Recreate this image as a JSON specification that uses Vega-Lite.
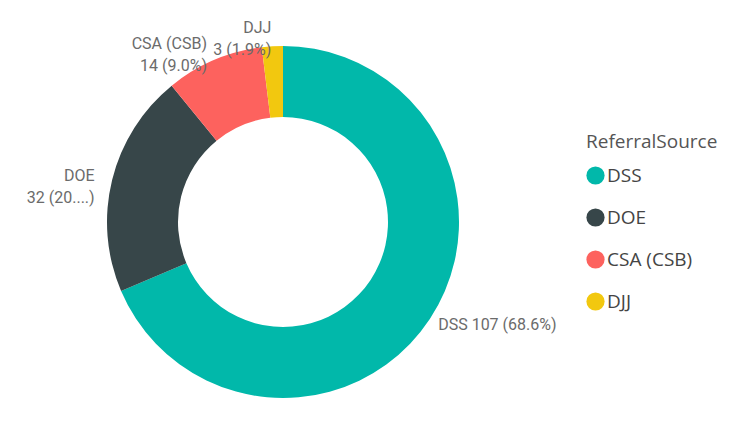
{
  "$schema": "https://vega.github.io/schema/vega-lite/v6.json",
  "width": 566,
  "height": 444,
  "autosize": {"type": "pad"},
  "padding": 0,
  "background": "white",
  "config": {"view": {"stroke": null}, "font": "Roboto"},
  "data": {"values": [
    {"source": "DSS", "value": 107, "label": "DSS 107 (68.6%)"},
    {"source": "DOE", "value": 32, "label": "DOE\n32 (20....)"},
    {"source": "CSA (CSB)", "value": 14, "label": "CSA (CSB)\n14 (9.0%)"},
    {"source": "DJJ", "value": 3, "label": "DJJ\n3 (1.9%)"}
  ]},
  "encoding": {
    "theta": {"field": "value", "type": "quantitative", "stack": true},
    "order": {"field": "value", "type": "quantitative", "sort": "descending"}
  },
  "layer": [
    {
      "mark": {"type": "arc", "outerRadius": 176, "innerRadius": 105},
      "encoding": {
        "color": {
          "field": "source", "type": "nominal", "title": "ReferralSource",
          "sort": ["DSS", "DOE", "CSA (CSB)", "DJJ"],
          "scale": {"domain": ["DSS", "DOE", "CSA (CSB)", "DJJ"], "range": ["#01B8AA", "#374649", "#FD625E", "#F2C80F"]},
          "legend": {
            "orient": "none", "legendX": 586, "legendY": 133,
            "symbolType": "circle", "symbolSize": 330, "symbolStrokeWidth": 0,
            "titleFontSize": 19, "labelFontSize": 19, "titleFontWeight": "normal",
            "titleColor": "#555555", "labelColor": "#444444",
            "titlePadding": 14, "rowPadding": 22, "labelOffset": 2,
            "titleFont": "Open Sans", "labelFont": "Open Sans"
          }
        }
      }
    },
    {
      "mark": {"type": "text", "radius": 194, "align": "right", "baseline": "middle", "fontSize": 16, "color": "#6b6b6b", "lineBreak": "\n", "lineHeight": 22},
      "encoding": {
        "text": {"condition": {"test": "datum.source === 'DSS'", "value": ""}, "field": "label", "type": "nominal"}
      }
    },
    {
      "mark": {"type": "text", "radius": 186, "align": "left", "baseline": "middle", "fontSize": 16, "color": "#6b6b6b", "lineBreak": "\n", "lineHeight": 22},
      "encoding": {
        "text": {"condition": {"test": "datum.source !== 'DSS'", "value": ""}, "field": "label", "type": "nominal"}
      }
    }
  ]
}
